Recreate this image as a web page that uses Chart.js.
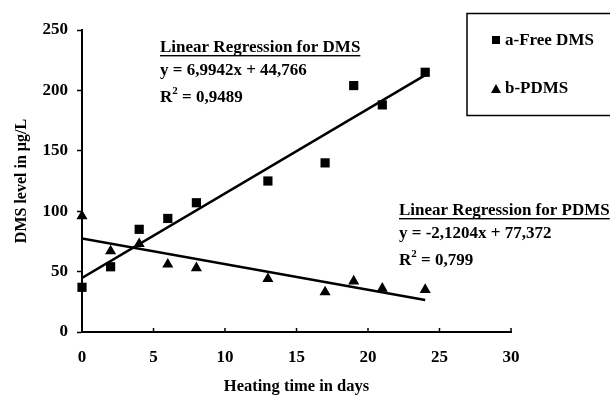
<!DOCTYPE html>
<html>
<head>
<meta charset="utf-8">
<script src="https://cdn.jsdelivr.net/npm/chart.js@4"></script>
<style>
  html, body { margin: 0; padding: 0; background: #fff; }
  #wrap { width: 610px; height: 397px; }
</style>
</head>
<body>
<div id="wrap"><canvas id="myChart" width="610" height="397"></canvas></div>
<script>
const days = [0, 2, 4, 6, 8, 13, 17, 19, 21, 24];
const freeDms = [37, 54, 85, 94, 107, 125, 140, 204, 188, 215];
const pdms = [96, 67, 73, 56, 53, 44, 33, 42, 36, 35];

// regression coefficients as printed on the chart
const dmsFit = [6.9942, 44.766];
const pdmsFit = [-2.1204, 77.372];
const fitRange = [0, 24];

const legendLabels = ["a-Free DMS", "b-PDMS"];
const dmsNote = ["Linear Regression for DMS", "y = 6,9942x + 44,766", "R", " = 0,9489"];
const pdmsNote = ["Linear Regression for PDMS", "y = -2,1204x + 77,372", "R", " = 0,799"];

const FONT = "'Liberation Serif', 'Times New Roman', serif";
Chart.defaults.font.family = FONT;
Chart.defaults.color = "#000";

function fitLine(coef) {
  return fitRange.map(x => ({ x: x, y: coef[0] * x + coef[1] }));
}

function drawNote(ctx, lines, x, y) {
  ctx.save();
  ctx.fillStyle = "#000";
  ctx.textBaseline = "alphabetic";
  ctx.font = "bold 17px " + FONT;
  ctx.fillText(lines[0], x, y);
  const w = ctx.measureText(lines[0]).width;
  ctx.fillRect(x, y + 3, w, 1.4);
  ctx.fillText(lines[1], x, y + 23);
  ctx.fillText(lines[2], x, y + 50);
  const rw = ctx.measureText(lines[2]).width;
  ctx.font = "bold 11px " + FONT;
  ctx.fillText("2", x + rw, y + 42);
  const sw = ctx.measureText("2").width;
  ctx.font = "bold 17px " + FONT;
  ctx.fillText(lines[3], x + rw + sw, y + 50);
  ctx.restore();
}

const extras = {
  id: "extras",
  afterDraw(chart) {
    const ctx = chart.ctx;
    const xs = chart.scales.x;
    const ys = chart.scales.y;
    ctx.save();
    // inward x ticks
    ctx.strokeStyle = "#000";
    ctx.lineWidth = 1.5;
    xs.ticks.forEach(t => {
      const px = xs.getPixelForValue(t.value);
      ctx.beginPath();
      ctx.moveTo(px, ys.bottom);
      ctx.lineTo(px, ys.bottom - 4);
      ctx.stroke();
    });
    // legend box
    ctx.lineWidth = 1.5;
    ctx.strokeRect(467, 13.5, 160, 102);
    ctx.fillStyle = "#000";
    ctx.fillRect(492, 36, 8, 8);
    ctx.beginPath();
    ctx.moveTo(496, 84);
    ctx.lineTo(501, 93);
    ctx.lineTo(491, 93);
    ctx.closePath();
    ctx.fill();
    ctx.font = "bold 17px " + FONT;
    ctx.textBaseline = "middle";
    ctx.fillText(legendLabels[0], 505, 41);
    ctx.fillText(legendLabels[1], 505, 89);
    ctx.restore();
    drawNote(ctx, dmsNote, 160, 52);
    drawNote(ctx, pdmsNote, 399, 215);
  }
};

const config = {
  type: "scatter",
  data: {
    datasets: [
      {
        label: legendLabels[0],
        data: days.map((d, i) => ({ x: d, y: freeDms[i] })),
        pointStyle: "rect",
        pointRadius: 6.5,
        backgroundColor: "#000",
        borderColor: "#000",
        borderWidth: 0,
        clip: false
      },
      {
        label: legendLabels[1],
        data: days.map((d, i) => ({ x: d, y: pdms[i] })),
        pointStyle: "triangle",
        pointRadius: 6.4,
        backgroundColor: "#000",
        borderColor: "#000",
        borderWidth: 0,
        clip: false
      },
      {
        label: "DMS fit",
        data: fitLine(dmsFit),
        showLine: true,
        pointRadius: 0,
        borderColor: "#000",
        borderWidth: 2.5
      },
      {
        label: "PDMS fit",
        data: fitLine(pdmsFit),
        showLine: true,
        pointRadius: 0,
        borderColor: "#000",
        borderWidth: 2.5
      }
    ]
  },
  options: {
    responsive: false,
    animation: false,
    layout: { padding: { top: 30, right: 99, left: 0, bottom: 0 } },
    plugins: {
      legend: { display: false },
      tooltip: { enabled: false }
    },
    scales: {
      x: {
        type: "linear",
        min: 0,
        max: 30,
        ticks: { stepSize: 5, padding: 15, font: { size: 17, weight: "bold" } },
        grid: { display: false, drawTicks: false },
        border: { color: "#000", width: 2 },
        title: {
          display: true,
          text: "Heating time in days",
          font: { size: 16.5, weight: "bold" },
          padding: { top: 10, bottom: 0 }
        },
        afterFit: s => { s.height = 65; }
      },
      y: {
        min: 0,
        max: 250,
        ticks: { stepSize: 50, padding: 9, font: { size: 17, weight: "bold" } },
        grid: { drawOnChartArea: false, tickLength: 5, color: "#000", tickWidth: 1.5 },
        border: { color: "#000", width: 2 },
        title: {
          display: true,
          text: "DMS level in µg/L",
          font: { size: 16, weight: "bold" },
          padding: { top: 12, bottom: 0 }
        },
        afterFit: s => { s.width = 82; }
      }
    }
  },
  plugins: [extras]
};

new Chart(document.getElementById("myChart").getContext("2d"), config);
</script>
</body>
</html>
